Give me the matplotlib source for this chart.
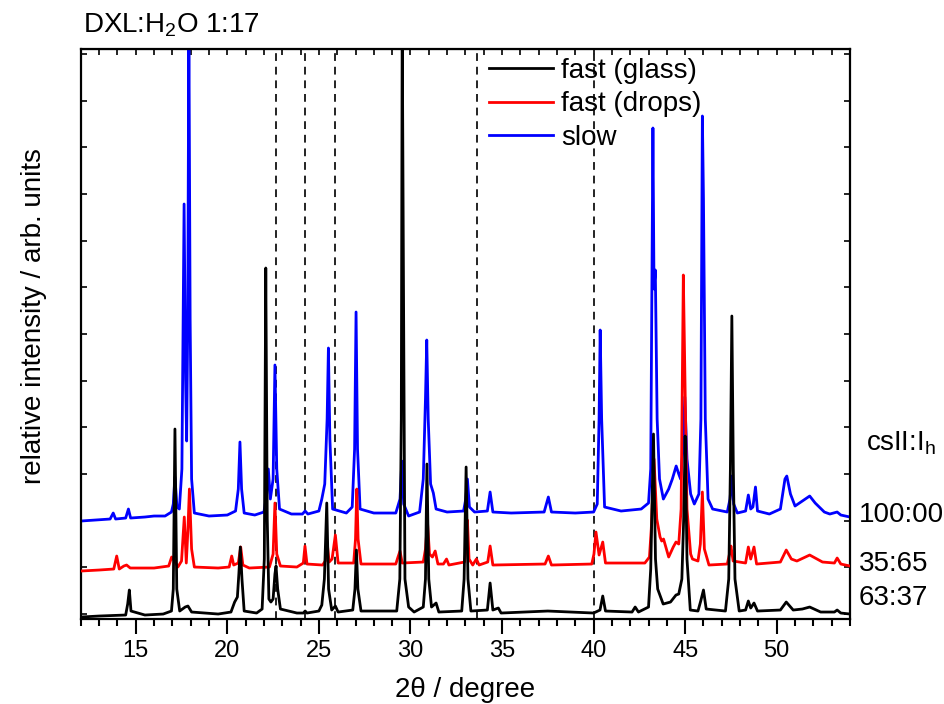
import matplotlib
matplotlib.use("Agg")
import matplotlib.pyplot as plt

plt.rcParams['font.family'] = ['Liberation Sans', 'DejaVu Sans']
plt.rcParams['mathtext.fontset'] = 'custom'
plt.rcParams['mathtext.rm'] = 'Liberation Sans'

# intensities, arbitrary units (offset already included)
glass_x = [12.0, 13.0, 14.45, 14.56, 14.65, 14.74, 15.5, 16.5, 16.95, 17.05, 17.14, 17.24, 17.4,
           17.7, 17.85, 18.05, 19.5, 20.2, 20.4, 20.55, 20.63, 20.71, 20.8, 20.92, 21.6, 21.9,
           22.02, 22.1, 22.18, 22.27, 22.38, 22.5, 22.6, 22.66, 22.75, 22.9, 23.8, 24.15, 24.25,
           24.35, 25.0, 25.16, 25.3, 25.43, 25.53, 25.7, 25.9, 26.05, 26.85, 26.97, 27.05, 27.13,
           27.3, 29.25, 29.42, 29.5, 29.55, 29.62, 29.7, 29.9, 30.2, 30.7, 30.82, 30.9, 31.0,
           31.15, 31.4, 31.55, 32.8, 32.93, 33.04, 33.14, 33.3, 34.2, 34.35, 34.5, 34.8, 34.95,
           37.5, 40.0, 40.35, 40.5, 40.65, 42.1, 42.27, 42.45, 43.0, 43.12, 43.27, 43.38, 43.5,
           43.8, 44.2, 44.5, 44.65, 44.82, 44.92, 45.0, 45.1, 45.28, 45.7, 45.85, 46.0, 46.15,
           47.2, 47.38, 47.47, 47.55, 47.63, 47.72, 47.95, 48.3, 48.45, 48.58, 48.76, 48.95,
           50.2, 50.52, 50.9, 51.4, 51.8, 52.4, 53.15, 53.3, 53.5, 54.0]
glass_y = [2, 3, 4, 15, 29, 8, 4, 5, 8, 30, 190, 30, 8,
           12, 13, 7, 5, 7, 17, 22, 45, 72, 40, 8, 6, 10,
           60, 351, 100, 20, 17, 20, 45, 53, 30, 10, 6, 6, 8,
           6, 8, 14, 40, 116, 30, 9, 13, 7, 9, 30, 69, 30,
           8, 8, 40, 200, 600, 330, 40, 12, 7, 12, 40, 155, 40,
           12, 16, 7, 8, 40, 152, 40, 8, 9, 36, 9, 11, 6,
           8, 6, 9, 23, 8, 7, 12, 7, 12, 50, 185, 60, 30,
           15, 17, 24, 25, 40, 100, 183, 60, 9, 8, 18, 29, 10,
           8, 40, 150, 303, 150, 40, 8, 9, 18, 11, 16, 8,
           9, 17, 9, 10, 12, 7, 7, 9, 6, 5]

drops_x = [12.0, 13.0, 13.8, 13.96, 14.1, 14.35, 14.5, 14.7, 16.0, 16.8, 16.96, 17.13, 17.3, 17.5,
           17.65, 17.76, 17.85, 17.93, 18.05, 18.2, 19.5, 20.1, 20.24, 20.35, 20.6, 20.73, 20.85,
           21.2, 22.3, 22.5, 22.6, 22.7, 22.9, 23.8, 24.15, 24.24, 24.35, 25.2, 25.35, 25.46,
           25.56, 25.72, 25.9, 26.05, 26.9, 27.0, 27.07, 27.14, 27.3, 29.2, 29.32, 29.43, 29.55,
           30.7, 30.82, 30.93, 31.04, 31.2, 31.35, 31.5, 31.8, 31.97, 32.1, 32.95, 33.04, 33.11,
           33.2, 33.4, 33.6, 33.75, 34.22, 34.35, 34.5, 37.35, 37.53, 37.7, 39.9, 40.02, 40.13,
           40.3, 40.5, 40.65, 42.8, 43.05, 43.15, 43.3, 43.45, 43.63, 43.72, 43.82, 44.1, 44.35,
           44.5, 44.65, 44.78, 44.9, 44.98, 45.1, 45.3, 45.4, 45.7, 45.83, 45.94, 46.05, 46.3,
           47.3, 47.42, 47.5, 47.62, 48.3, 48.45, 48.58, 48.76, 48.9, 50.2, 50.52, 50.8, 51.1,
           51.8, 52.5, 53.15, 53.3, 53.5, 54.0]
drops_y = [48, 49, 50, 63, 50, 53, 54, 51, 51, 53, 62, 58, 52, 58,
           102, 56, 90, 130, 70, 52, 51, 52, 63, 54, 56, 72, 54,
           51, 52, 65, 116, 65, 53, 52, 56, 73, 55, 54, 58, 75,
           57, 60, 84, 56, 56, 80, 130, 80, 55, 55, 62, 68, 56,
           57, 70, 97, 65, 62, 68, 55, 55, 60, 54, 57, 70, 99,
           60, 54, 60, 54, 57, 73, 54, 55, 63, 54, 55, 65, 87,
           64, 77, 56, 56, 62, 90, 160, 100, 82, 78, 80, 62, 72,
           77, 75, 110, 344, 250, 110, 65, 60, 58, 75, 127, 70, 54,
           55, 65, 73, 58, 56, 72, 60, 72, 55, 57, 69, 60, 58,
           64, 57, 56, 61, 55, 53]

slow_x = [12.0, 12.8, 13.6, 13.77, 13.9, 14.45, 14.6, 14.72, 15.5, 16.0, 16.6, 16.95, 17.05, 17.14,
          17.25, 17.38, 17.52, 17.64, 17.72, 17.78, 17.84, 17.9, 17.97, 18.05, 18.2, 19.0, 20.0,
          20.45, 20.6, 20.69, 20.78, 20.92, 21.5, 22.0, 22.15, 22.24, 22.35, 22.5, 22.6, 22.7,
          22.85, 23.5, 24.1, 24.25, 24.4, 25.0, 25.16, 25.32, 25.45, 25.52, 25.6, 25.75, 26.5,
          26.82, 26.95, 27.03, 27.11, 27.25, 28.0, 29.2, 29.43, 29.53, 29.63, 29.9, 30.5, 30.7,
          30.82, 30.89, 30.97, 31.1, 31.25, 31.4, 32.0, 32.9, 33.02, 33.11, 33.22, 33.5, 34.2,
          34.35, 34.5, 35.5, 37.3, 37.53, 37.7, 39.0, 40.0, 40.2, 40.3, 40.36, 40.44, 40.6, 41.5,
          42.6, 43.0, 43.12, 43.24, 43.3, 43.37, 43.47, 43.6, 43.81, 44.1, 44.3, 44.51, 44.65,
          44.75, 44.88, 44.98, 45.1, 45.3, 45.5, 45.75, 45.86, 45.94, 46.0, 46.1, 46.25, 46.5,
          47.3, 47.45, 47.55, 47.65, 47.85, 48.3, 48.45, 48.58, 48.7, 48.84, 48.95, 49.6, 50.2,
          50.45, 50.55, 50.75, 51.0, 51.4, 51.8, 52.1, 52.6, 52.9, 53.3, 53.5, 54.0]
slow_y = [98, 99, 100, 106, 100, 101, 110, 101, 102, 103, 103, 107, 115, 142,
          112, 110, 150, 415, 240, 178, 300, 600, 300, 140, 106, 103, 104,
          108, 130, 177, 130, 106, 104, 107, 125, 150, 120, 140, 254, 150,
          110, 105, 105, 108, 105, 108, 120, 135, 200, 271, 180, 110, 106,
          112, 170, 307, 170, 110, 106, 106, 120, 158, 115, 103, 107, 140,
          220, 279, 200, 135, 126, 110, 107, 108, 120, 140, 112, 107, 108,
          127, 107, 106, 107, 122, 107, 106, 107, 115, 200, 289, 200, 112, 108,
          110, 116, 150, 491, 330, 349, 200, 140, 120, 130, 140, 153, 145,
          140, 170, 222, 160, 125, 115, 125, 200, 503, 420, 200, 120, 110,
          107, 120, 143, 115, 106, 108, 124, 110, 112, 132, 108, 105, 110,
          140, 143, 125, 113, 118, 123, 116, 107, 105, 107, 104, 102]

dashed_x = [22.66, 24.25, 25.9, 33.62, 40.0]
ratio_labels = ['100:00', '35:65', '63:37']

fig = plt.figure(figsize=(9.44, 7.04), dpi=100)
ax = fig.add_axes([0.0856, 0.1207, 0.8148, 0.8097])

for xd in dashed_x:
    ax.axvline(xd, color='#222222', lw=1.4, ls=(0, (4, 3)), zorder=1)

ax.plot(glass_x, glass_y, color='black', lw=2, label='fast (glass)', zorder=4)
ax.plot(drops_x, drops_y, color='red', lw=2, label='fast (drops)', zorder=3)
ax.plot(slow_x, slow_y, color='blue', lw=2, label='slow', zorder=2)

ax.set_xlim(12, 54)
ax.set_ylim(0, 570)
ax.set_xticks([15, 20, 25, 30, 35, 40, 45, 50])
ax.set_xticks(range(12, 55), minor=True)
ax.set_yticks([5, 52, 98, 145, 192, 238, 285, 332, 378, 425, 472, 518, 565])
ax.set_yticklabels([])
ax.tick_params(axis='x', which='major', direction='out', length=11, width=1.5, labelsize=17, pad=4)
ax.tick_params(axis='x', which='minor', direction='out', length=5, width=1.5)
ax.tick_params(axis='y', direction='in', length=4, width=1.2, left=True, right=True)
for s in ax.spines.values():
    s.set_linewidth(1.6)

# inward ticks along the top edge
top = ax.secondary_xaxis('top')
top.set_xticks(range(12, 55))
top.set_xticklabels([])
top.tick_params(direction='in', length=4, width=1.2)

ax.set_xlabel('2\u03b8 / degree', fontsize=20, labelpad=11)
ax.set_ylabel('relative intensity / arb. units', fontsize=20)
ax.yaxis.set_label_coords(-0.044, 0.532)

ax.legend(loc='upper left', bbox_to_anchor=(0.531, 0.985), frameon=False, fontsize=20,
          handlelength=2.3, handletextpad=0.3, labelspacing=0.28, borderpad=0, borderaxespad=0)

fig.text(83 / 944, 1 - 32 / 704, 'DXL:H$_2$O 1:17', fontsize=20, va='baseline', ha='left')

fig.text(866 / 944, 1 - 443 / 704, 'csII:I$_\\mathrm{h}$', fontsize=20, va='center', ha='left')
for lab, py in zip(ratio_labels, [515, 564, 598]):
    fig.text(859 / 944, 1 - py / 704, lab, fontsize=20, va='center', ha='left')

fig.savefig('out.png', dpi=100)
